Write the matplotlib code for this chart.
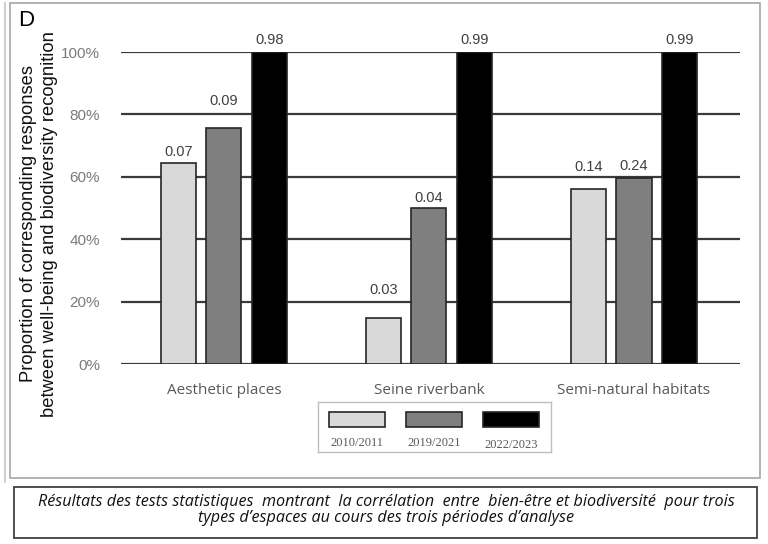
import matplotlib.pyplot as plt
from matplotlib.patches import Rectangle
import numpy as np

categories = ['Aesthetic places', 'Seine riverbank', 'Semi-natural habitats']
periods = ['2010/2011', '2019/2021', '2022/2023']
values = [
    [64.4, 14.7, 56.0],    # 2010/2011
    [75.6, 50.0, 59.6],    # 2019/2021
    [100.0, 100.0, 100.0], # 2022/2023
]
pvalues = [
    ['0.07', '0.03', '0.14'],
    ['0.09', '0.04', '0.24'],
    ['0.98', '0.99', '0.99'],
]
# how far above each bar the p-value sits (they dodge the grid lines)
label_gap = [
    [3.5, 9.0, 7.1],
    [8.7, 3.2, 3.9],
    [3.8, 3.8, 3.8],
]
colors = ['#d9d9d9', '#7f7f7f', '#000000']
yticks = [0, 20, 40, 60, 80, 100]
caption = ["Résultats des tests statistiques  montrant  la corrélation  entre  bien-être et biodiversité  pour trois",
           "types d’espaces au cours des trois périodes d’analyse"]

W, H = 768, 544
fig = plt.figure(figsize=(W / 100, H / 100), dpi=100)

# outer frame around the chart and the caption box
fig.patches.append(Rectangle((10 / W, 1 - 478 / H), 750 / W, 475 / H, transform=fig.transFigure,
                             fill=False, edgecolor='#a6a6a6', lw=1.2))
fig.patches.append(Rectangle((4 / W, 1 - 482 / H), 1 / W, 480 / H, transform=fig.transFigure,
                             fill=False, edgecolor='#d0d0d0', lw=0.8))
fig.patches.append(Rectangle((14 / W, 1 - 538 / H), 743 / W, 51 / H, transform=fig.transFigure,
                             fill=False, edgecolor='#404040', lw=1.3))

ax = fig.add_axes([121 / W, 1 - 364 / H, 619 / W, 312 / H])
x = np.arange(len(categories))
width = 0.171
step = 0.222
for i, (vals, lab, gaps, col) in enumerate(zip(values, pvalues, label_gap, colors)):
    pos = x + (i - 1) * step
    ax.bar(pos, vals, width, color=col, edgecolor='#262626', linewidth=1.2, zorder=3)
    for px, v, t, g in zip(pos, vals, lab, gaps):
        ax.text(px, v + g, t, ha='center', va='center', fontsize=10.5,
                family='Liberation Sans', color='#404040', clip_on=False)

for t in yticks:
    ax.axhline(t, color='#3a3a3a', lw=1.6, zorder=1)
ax.set_xlim(-0.502, 2.517)
ax.set_ylim(0, 100)
ax.set_yticks(yticks)
ax.set_yticklabels([f'{t}%' for t in yticks], family='Liberation Sans', fontsize=11, color='#7a7a7a')
ax.set_xticks(x)
ax.set_xticklabels(categories, family='Open Sans', fontsize=11, color='#595959')
ax.tick_params(length=0, axis='y', pad=15)
ax.tick_params(length=0, axis='x', pad=14)
for s in ax.spines.values():
    s.set_visible(False)

fig.text(39 / W, 1 - 224 / H,
         'Proportion of corresponding responses\nbetween well-being and biodiversity recognition',
         rotation=90, ha='center', va='center', multialignment='center',
         family='Liberation Sans', fontsize=13.2, color='#111111', linespacing=1.25)

fig.text(26.5 / W, 1 - 20 / H, 'D', fontsize=16, family='Liberation Sans', va='center', ha='center')

# legend box
lax = fig.add_axes([318 / W, 1 - 452 / H, 233 / W, 50 / H])
lax.set_xlim(0, 233)
lax.set_ylim(50, 0)
lax.set_xticks([])
lax.set_yticks([])
for s in lax.spines.values():
    s.set_edgecolor('#bfbfbf')
    s.set_linewidth(1.0)
for i, (p, col) in enumerate(zip(periods, colors)):
    x0 = 11 + i * 77
    lax.add_patch(Rectangle((x0, 10), 56, 15, facecolor=col, edgecolor='#262626', lw=1.2))
    lax.text(x0 + 28, 41 + (1.5 if i == 2 else 0), p, ha='center', va='center', fontsize=9,
             family='Liberation Serif', color='#595959')

for k, line in enumerate(caption):
    fig.text(386 / W, 1 - (502 + 16 * k) / H, line, ha='center', va='center', fontsize=11.6,
             family='Open Sans', style='italic', color='#111111')

fig.savefig('out.png', dpi=100)
